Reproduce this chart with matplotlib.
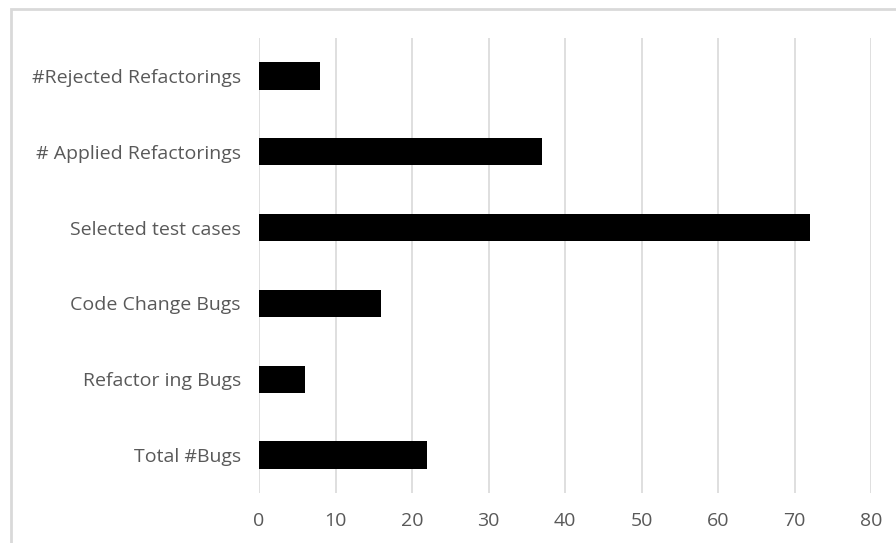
import matplotlib
matplotlib.use("Agg")
import matplotlib.pyplot as plt
from matplotlib.patches import Rectangle

categories = ["Total #Bugs", "Refactor ing Bugs", "Code Change Bugs",
              "Selected test cases", "# Applied Refactorings", "#Rejected Refactorings"]
values = [22, 6, 16, 72, 37, 8]
x_ticks = [0, 10, 20, 30, 40, 50, 60, 70, 80]

plt.rcParams["font.family"] = ["Open Sans", "DejaVu Sans"]
text_color = "#595959"

fig = plt.figure(figsize=(8.96, 5.43), dpi=100)
ax = fig.add_axes([259 / 896, 50 / 543, 612 / 896, 455 / 543])

ax.barh(range(len(categories)), values, height=0.36, color="black", zorder=3)
ax.set_xlim(0, 80)
ax.set_ylim(-0.5, len(categories) - 0.5)
ax.set_xticks(x_ticks)
ax.set_yticks(range(len(categories)))
ax.set_yticklabels(categories)
ax.tick_params(axis="both", length=0, colors=text_color, labelsize=14)
ax.tick_params(axis="x", pad=14)
ax.tick_params(axis="y", pad=13)
ax.grid(axis="x", color="#dcdcdc", linewidth=1.3, zorder=0)
for s in ax.spines.values():
    s.set_visible(False)

# chart-area frame, running off the right and bottom edges
fig.patches.append(Rectangle((11 / 896, -0.05), 1.0, (534 / 543) + 0.05,
                             transform=fig.transFigure, fill=False,
                             edgecolor="#d9d9d9", linewidth=2))

fig.savefig("out.png", dpi=100)
